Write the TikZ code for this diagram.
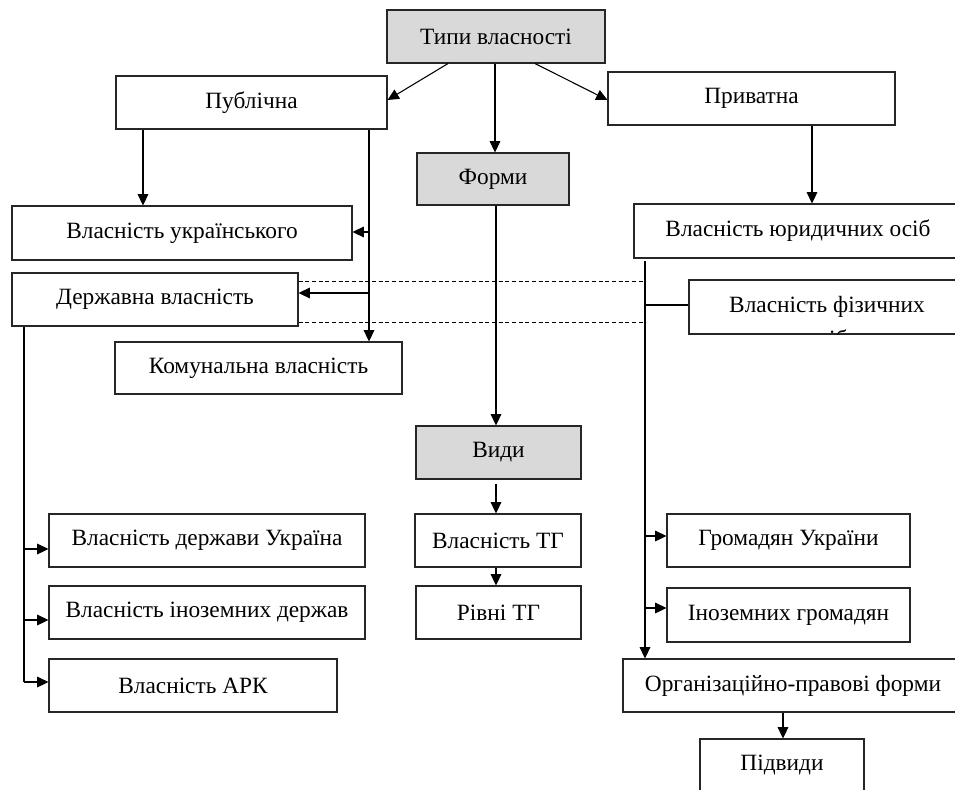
\documentclass[tikz,border=0pt]{standalone}
\usepackage{fontspec}
\setmainfont{Liberation Serif}
\usetikzlibrary{arrows.meta}
\newcommand\bxnode[7]{%
  \node[#6, minimum width={(#4-#2)*0.75pt}, minimum height={(#5-#3)*0.75pt}]
    (#1) at ({(#2+#4)/2},{(#3+#5)/2}) {#7};}
\begin{document}
\begin{tikzpicture}[x=0.75pt,y=-0.75pt,
  txt/.style={font=\fontsize{17.5}{20}\selectfont},
  box/.style={txt, draw=black!85, line width=0.8pt, inner sep=0pt},
  gbox/.style={box, fill=gray!30},
  arr/.style={draw, line width=0.8pt, -{Triangle[length=8.5pt,width=8pt]}},
  ln/.style={draw, line width=0.8pt},
  dsh/.style={draw, line width=0.6pt, dash pattern=on 3pt off 2pt}]
\clip (0,0) rectangle (955,789);
\fill[white] (0,0) rectangle (955,789);
% nodes
\bxnode{tipy}{387}{10}{605}{63}{gbox}{Типи власності}
\bxnode{pub}{116}{76}{387}{129}{box}{Публічна}
\bxnode{priv}{608}{72}{895}{125}{box}{Приватна}
\bxnode{formy}{417}{153}{569}{205}{gbox}{Форми}
\bxnode{ukr}{12}{206}{352}{260}{box}{Власність українського}
\bxnode{derzh}{12}{273}{298}{326}{box}{Державна власність}
\bxnode{komun}{115}{342}{402}{394}{box}{Комунальна власність}
\bxnode{yur}{634}{204}{962}{258}{box}{Власність юридичних осіб}
\bxnode{fiz}{689}{280}{966}{334}{box}{}
\node[txt, anchor=base] (fiz1) at (827,312) {Власність фізичних};
\begin{scope}
\clip (689,280) rectangle (966,334);
\node[txt, anchor=base] (fiz2) at (827,346) {осіб};
\end{scope}
\bxnode{vydy}{416}{426}{581}{479}{gbox}{Види}
\bxnode{tg}{415}{514}{581}{567}{box}{Власність ТГ}
\bxnode{rivni}{416}{586}{581}{639}{box}{Рівні ТГ}
\bxnode{hrom}{667}{514}{910}{567}{box}{Громадян України}
\bxnode{inoz}{667}{588}{910}{642}{box}{Іноземних громадян}
\bxnode{org}{623}{659}{963}{712}{box}{Організаційно-правові форми}
\bxnode{pidv}{700}{739}{864}{792}{box}{Підвиди}
\bxnode{dukr}{49}{514}{365}{567}{box}{Власність держави Україна}
\bxnode{dinoz}{49}{586}{365}{639}{box}{Власність іноземних держав}
\bxnode{ark}{49}{659}{337}{712}{box}{Власність АРК}
% connectors
\draw[arr] (tipy.south -| 448,0) -- (pub.east |- 0,100);
\draw[arr] (tipy.south -| 535,0) -- (priv.west |- 0,100);
\draw[arr] (tipy.south -| 495,0) -- (formy.north -| 495,0);
\draw[arr] (pub.south -| 143,0) -- (ukr.north -| 143,0);
\draw[arr] (pub.south -| 369,0) -- (komun.north -| 369,0);
\draw[arr] (369,232) -- (ukr.east |- 0,232);
\draw[arr] (369,293) -- (derzh.east |- 0,293);
\draw[dsh] (derzh.east |- 0,281) -- (645,281);
\draw[dsh] (derzh.east |- 0,322) -- (645,322);
\draw[arr] (priv.south -| 812,0) -- (yur.north -| 812,0);
\draw[arr] ([yshift=-2.2pt]yur.south -| 645,0) -- (org.north -| 645,0);
\draw[ln] (645,305) -- (fiz.west |- 0,305);
\draw[arr] (645,536) -- (hrom.west |- 0,536);
\draw[arr] (645,608) -- (inoz.west |- 0,608);
\draw[arr] (formy.south -| 496,0) -- (vydy.north -| 496,0);
\draw[arr] ([yshift=-3pt]vydy.south -| 496,0) -- (tg.north -| 496,0);
\draw[arr] (tg.south -| 496,0) -- (rivni.north -| 496,0);
\draw[arr] (org.south -| 783,0) -- (pidv.north -| 783,0);
\draw[ln] (derzh.south -| 24,0) -- (24,682);
\draw[arr] (24,549) -- (dukr.west |- 0,549);
\draw[arr] (24,620) -- (dinoz.west |- 0,620);
\draw[arr] (24,682) -- (ark.west |- 0,682);
\end{tikzpicture}
\end{document}
